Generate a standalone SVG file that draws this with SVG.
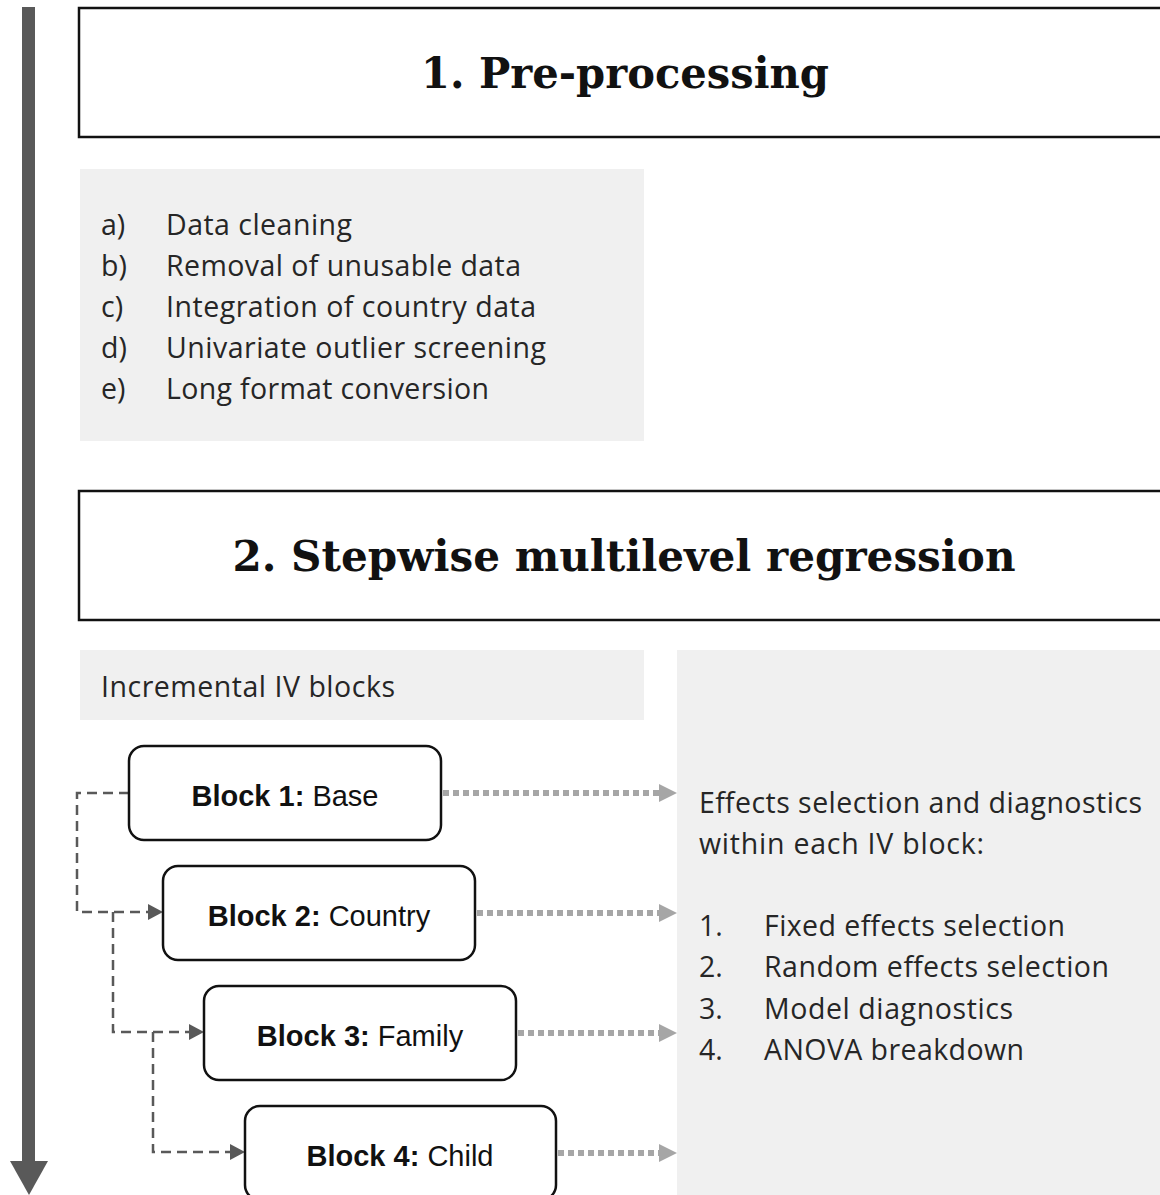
<svg xmlns="http://www.w3.org/2000/svg" width="1160" height="1195" viewBox="0 0 1160 1195">
<style>
.title{font-family:"DejaVu Serif","Liberation Serif",serif;font-weight:bold;font-size:42px;fill:#111;text-anchor:middle}
.body{font-family:"Open Sans",Lato,sans-serif;font-size:28.5px;fill:#262626}
.blk{font-family:"Liberation Sans",Arial,sans-serif;font-size:29px;fill:#111;text-anchor:middle}
.blk .b{font-weight:bold}
.tbox{fill:#fff;stroke:#111;stroke-width:2.5}
.grey{fill:#f0f0f0}
.node{fill:#fff;stroke:#111;stroke-width:2.5}
.dash{fill:none;stroke:#595959;stroke-width:2.5;stroke-dasharray:10 6}
.dot{fill:none;stroke:#a6a6a6;stroke-width:6;stroke-dasharray:6 4}
.dothead{fill:#a6a6a6}
.dashhead{fill:#595959}
</style>
<rect width="1160" height="1195" fill="#fff"/>
<g id="timeline">
<rect x="22" y="7" width="13" height="1156" fill="#595959"/>
<polygon points="10,1161 48,1161 29,1195" fill="#595959"/>
</g>
<g id="title1">
<rect class="tbox" x="79" y="8" width="1100" height="129"/>
<text class="title" x="625" y="88" textLength="408" lengthAdjust="spacingAndGlyphs">1. Pre-processing</text>
</g>
<g id="preproc-list">
<rect class="grey" x="80" y="169" width="564" height="272"/>
<text class="body"><tspan x="101" y="235">a)</tspan><tspan x="166" y="235" textLength="186">Data cleaning</tspan></text>
<text class="body"><tspan x="101" y="276">b)</tspan><tspan x="166" y="276" textLength="355">Removal of unusable data</tspan></text>
<text class="body"><tspan x="101" y="317">c)</tspan><tspan x="166" y="317" textLength="370">Integration of country data</tspan></text>
<text class="body"><tspan x="101" y="358">d)</tspan><tspan x="166" y="358" textLength="380">Univariate outlier screening</tspan></text>
<text class="body"><tspan x="101" y="399">e)</tspan><tspan x="166" y="399" textLength="323">Long format conversion</tspan></text>
</g>
<g id="title2">
<rect class="tbox" x="79" y="491" width="1100" height="129"/>
<text class="title" x="624" y="571" textLength="783" lengthAdjust="spacingAndGlyphs">2. Stepwise multilevel regression</text>
</g>
<g id="iv-label">
<rect class="grey" x="80" y="650" width="564" height="70"/>
<text class="body" x="101" y="697" textLength="294">Incremental IV blocks</text>
</g>
<g id="effects-panel">
<rect class="grey" x="677" y="650" width="483" height="545"/>
<text class="body" x="699" y="813" textLength="443">Effects selection and diagnostics</text>
<text class="body" x="699" y="854" textLength="285">within each IV block:</text>
<text class="body"><tspan x="699" y="936">1.</tspan><tspan x="764" y="936" textLength="301">Fixed effects selection</tspan></text>
<text class="body"><tspan x="699" y="977">2.</tspan><tspan x="764" y="977" textLength="345">Random effects selection</tspan></text>
<text class="body"><tspan x="699" y="1019">3.</tspan><tspan x="764" y="1019" textLength="249">Model diagnostics</tspan></text>
<text class="body"><tspan x="699" y="1060">4.</tspan><tspan x="764" y="1060" textLength="260">ANOVA breakdown</tspan></text>
</g>
<g id="connectors">
<path class="dash" d="M129,793 H77 V912 H150"/>
<polygon class="dashhead" points="148,904 163,912 148,920"/>
<path class="dash" d="M113,912 V1032 H191"/>
<polygon class="dashhead" points="189,1024 204,1032 189,1040"/>
<path class="dash" d="M153,1032 V1152 H232"/>
<polygon class="dashhead" points="230,1144 245,1152 230,1160"/>
<path class="dot" d="M443,793 H660"/>
<polygon class="dothead" points="659,784 677,793 659,802"/>
<path class="dot" d="M477,913 H660"/>
<polygon class="dothead" points="659,904 677,913 659,922"/>
<path class="dot" d="M518,1033 H660"/>
<polygon class="dothead" points="659,1024 677,1033 659,1042"/>
<path class="dot" d="M558,1153 H660"/>
<polygon class="dothead" points="659,1144 677,1153 659,1162"/>
</g>
<g id="block1">
<rect class="node" x="129" y="746" width="312" height="94" rx="15"/>
<text class="blk" x="285" y="806"><tspan class="b">Block 1:</tspan> Base</text>
</g>
<g id="block2">
<rect class="node" x="163" y="866" width="312" height="94" rx="15"/>
<text class="blk" x="319" y="926"><tspan class="b">Block 2:</tspan> Country</text>
</g>
<g id="block3">
<rect class="node" x="204" y="986" width="312" height="94" rx="15"/>
<text class="blk" x="360" y="1046"><tspan class="b">Block 3:</tspan> Family</text>
</g>
<g id="block4">
<rect class="node" x="245" y="1106" width="311" height="94" rx="15"/>
<text class="blk" x="400" y="1166"><tspan class="b">Block 4:</tspan> Child</text>
</g>
</svg>
